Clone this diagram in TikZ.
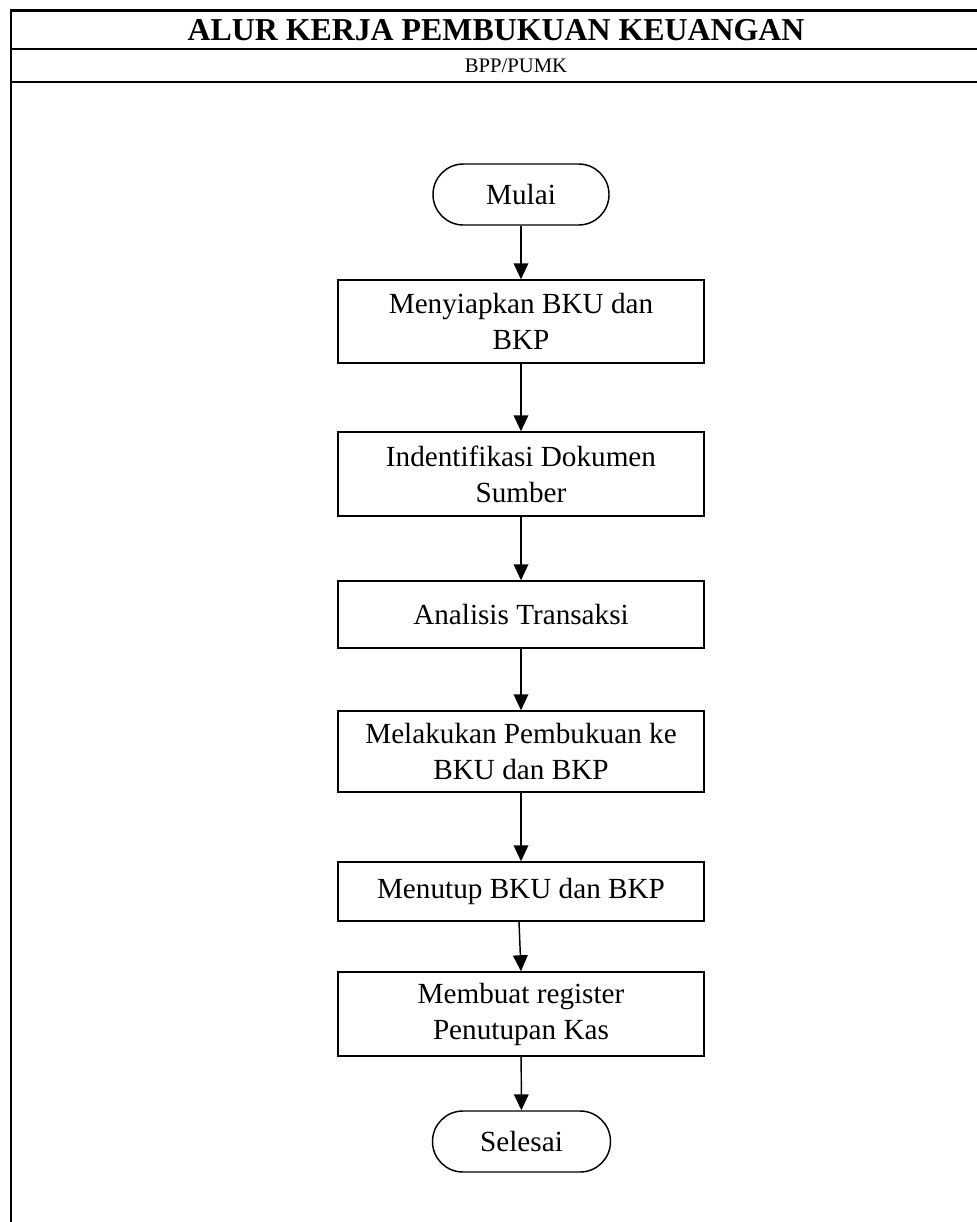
\documentclass[tikz,border=0pt]{standalone}
\usepackage{fontspec}
\setmainfont{Liberation Serif}
\usetikzlibrary{arrows.meta}
\begin{document}
\begin{tikzpicture}[x=0.75pt,y=-0.75pt,
  frameline/.style={line width=2.2pt},
  stepbox/.style={draw, line width=1.1pt, rectangle, minimum width=274.5pt,
    align=center, inner sep=0pt, font=\fontsize{21.9}{27}\selectfont},
  terminal/.style={draw, line width=1.1pt, rectangle, rounded corners=22.8pt,
    minimum width=132pt, minimum height=45.75pt, inner sep=0pt,
    font=\fontsize{21.9}{27}\selectfont},
  flow/.style={line width=1.1pt, -{Triangle[length=12pt,width=11pt]}}]
\useasboundingbox (0,0) rectangle (977,1222);

% table frame with title rows
\draw[frameline] (11,1222) -- (11,10.5) -- (977,10.5);
\draw[frameline] (11,49) -- (977,49);
\draw[frameline] (11,82) -- (977,82);
\node (title) at (496,30) {\fontsize{23.9}{28}\selectfont\bfseries ALUR KERJA PEMBUKUAN KEUANGAN};
\node (sub) at (516,66) {\fontsize{15.5}{18}\selectfont BPP/PUMK};

% flowchart steps
\node[terminal] (start) at (521,194.5) {Mulai};
\node[stepbox, minimum height=62.25pt] (b1) at (521,321.5) {Menyiapkan BKU dan\\BKP};
\node[stepbox, minimum height=63pt] (b2) at (521,474) {Indentifikasi Dokumen\\Sumber};
\node[stepbox, minimum height=50.25pt] (b3) at (521,614.5) {Analisis Transaksi};
\node[stepbox, minimum height=60.75pt] (b4) at (521,751.5) {Melakukan Pembukuan ke\\BKU dan BKP};
\node[stepbox, minimum height=44.25pt] (b5) at (521,891.5) {Menutup BKU dan BKP};
\node[stepbox, minimum height=63pt] (b6) at (521,1014) {Membuat register\\Penutupan Kas};
\node[terminal, minimum width=133.5pt] (end) at (521.5,1141.5) {Selesai};

% connectors
\draw[flow] (start) -- (b1);
\draw[flow] (b1) -- (b2);
\draw[flow] (b2) -- (b3);
\draw[flow] (b3) -- (b4);
\draw[flow] (b4) -- (b5);
\draw[flow] ([xshift=-1.5pt]b5.south) -- (b6.north);
\draw[flow] (b6) -- (end);
\end{tikzpicture}
\end{document}
